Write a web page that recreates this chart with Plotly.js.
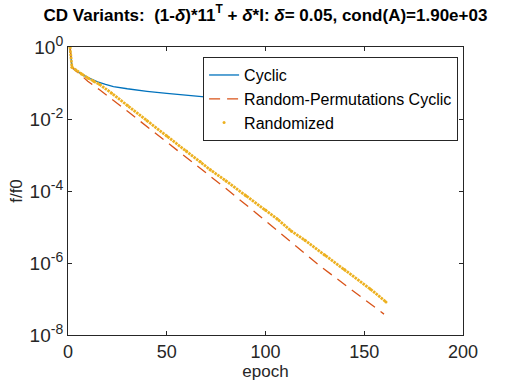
<!DOCTYPE html>
<html>
<head>
<meta charset="utf-8">
<script src="https://cdn.plot.ly/plotly-3.0.1.min.js"></script>
<style>
  html, body { margin: 0; padding: 0; background: #fff; }
  #chart { width: 512px; height: 384px; }
</style>
</head>
<body>
<div id="chart"></div>
<script>
// values (f/f0 per epoch)
const cyclicEpoch = [1, 2, 4, 6, 8, 11, 15, 19, 23, 30, 35, 40, 50, 60, 68, 80, 100, 120, 140, 160];
const cyclicVal = [1, 0.2754, 0.2188, 0.1862, 0.1622, 0.1349, 0.1072, 0.0912, 0.0794, 0.0692,
  0.0631, 0.0589, 0.0513, 0.0457, 0.0407, 0.0363, 0.0309, 0.0269, 0.0240, 0.0214];

const permEpoch = [1, 2, 4, 6, 8, 10, 13, 16, 30, 45, 67, 80, 99, 114, 128, 143, 160];
const permVal = [1, 0.2754, 0.2188, 0.1738, 0.1380, 0.1122, 0.0851, 0.0646, 0.0166, 3.80e-3,
  4.27e-4, 1.17e-4, 1.66e-5, 3.39e-6, 7.94e-7, 1.91e-7, 3.80e-8];

const randEpoch = [1, 2, 4, 7, 10, 13, 16, 22, 30, 40, 50, 60, 67, 72, 80, 90, 100, 106, 113,
  120, 130, 140, 153, 161];
const randVal = [1, 0.2754, 0.2291, 0.1738, 0.1380, 0.1122, 0.0912, 0.0525, 0.0240, 8.91e-3,
  3.39e-3, 1.29e-3, 6.46e-4, 3.89e-4, 1.91e-4, 7.41e-5, 2.95e-5, 1.66e-5, 7.76e-6, 4.27e-6,
  1.66e-6, 6.61e-7, 1.91e-7, 8.32e-8];

const xTicks = [0, 50, 100, 150, 200];
const yTicks = [1, 1e-2, 1e-4, 1e-6, 1e-8];
const yExp = ['0', '-2', '-4', '-6', '-8'];

const fontFam = 'Liberation Sans, Arial, Helvetica, sans-serif';
const ink = '#262626';

const traces = [
  {
    x: cyclicEpoch, y: cyclicVal, type: 'scatter', mode: 'lines', name: 'Cyclic',
    line: {color: '#0072BD', width: 1.3}
  },
  {
    x: permEpoch, y: permVal, type: 'scatter', mode: 'lines', name: 'Random-Permutations Cyclic',
    line: {color: '#D95319', width: 1.3, dash: '11px,7px'}
  },
  {
    x: randEpoch, y: randVal, type: 'scatter', mode: 'lines', showlegend: false,
    legendgroup: 'rand', hoverinfo: 'skip',
    line: {color: '#EDB120', width: 2.8, dash: '2.5px,0.8px'}
  },
  {
    x: randEpoch, y: randVal, type: 'scatter', mode: 'markers', name: 'Randomized',
    legendgroup: 'rand',
    marker: {color: '#EDB120', size: 3}
  }
];

const layout = {
  width: 512,
  height: 384,
  margin: {l: 68, r: 49, t: 47, b: 49},
  paper_bgcolor: '#fff',
  plot_bgcolor: '#fff',
  font: {family: fontFam, color: ink, size: 17},
  showlegend: true,
  title: {
    text: 'CD Variants:  (1-<i>δ</i>)*11<sup>T</sup> + <i>δ</i>*I: <i>δ</i>= 0.05, cond(A)=1.90e+03',
    font: {family: fontFam, size: 17, color: '#000', weight: 'bold'},
    xref: 'paper', x: 0.5, xanchor: 'center',
    yref: 'container', y: 0.962, yanchor: 'middle'
  },
  xaxis: {
    range: [0, 200],
    tickvals: xTicks,
    ticktext: xTicks.map(String),
    ticks: 'inside', ticklen: 4, tickcolor: ink,
    showline: true, linecolor: ink, linewidth: 1, mirror: 'ticks',
    showgrid: false, zeroline: false,
    tickfont: {size: 18, color: ink},
    title: {text: 'epoch', font: {size: 17, color: ink}, standoff: 4}
  },
  yaxis: {
    type: 'log',
    range: [-8, 0],
    tickvals: yTicks,
    ticktext: yExp.map(e => '10<sup><span style="font-size:14px">' + e + '</span></sup>'),
    ticks: 'inside', ticklen: 4, tickcolor: ink,
    showline: true, linecolor: ink, linewidth: 1, mirror: 'ticks',
    showgrid: false, zeroline: false,
    tickfont: {size: 19, color: ink},
    title: {text: 'f/f0', font: {size: 17, color: ink}, standoff: 2}
  },
  legend: {
    x: 0.342, y: 0.965, xanchor: 'left', yanchor: 'top',
    bgcolor: '#fff', bordercolor: ink, borderwidth: 1,
    font: {size: 16, color: '#000'},
    itemwidth: 30, tracegroupgap: 0
  }
};

Plotly.newPlot('chart', traces, layout, {staticPlot: true, displayModeBar: false});
</script>
</body>
</html>
